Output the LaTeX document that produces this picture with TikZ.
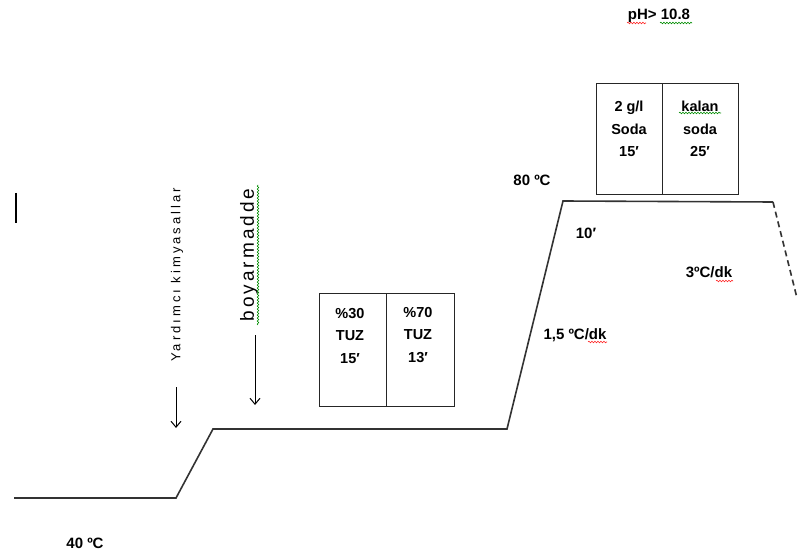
\documentclass[tikz,border=0pt]{standalone}
\usepackage{fontspec}
\setmainfont{Liberation Sans}
\usetikzlibrary{arrows.meta,decorations.pathmorphing}
\begin{document}
\begin{tikzpicture}[x=1pt,y=-1pt,
  lbl/.style={font=\fontsize{15}{18}\selectfont\bfseries, inner sep=0pt},
  boxtxt/.style={font=\fontsize{14.5}{22.5}\selectfont\bfseries, align=center, inner sep=0pt},
  profile/.style={draw=black!80, line width=1.6pt},
  boxline/.style={draw=black!85, line width=1.3pt, inner sep=0pt, anchor=north west},
  drop/.style={draw=black, line width=1pt, -{Straight Barb[length=6pt,width=10pt]}},
  sqred/.style={draw=red!85, line width=0.6pt, decorate, decoration={snake, amplitude=0.8pt, segment length=3pt}},
  sqgreen/.style={draw=green!55!black, line width=0.6pt, decorate, decoration={snake, amplitude=0.8pt, segment length=3pt}}
]
\useasboundingbox (0,0) rectangle (798,556);

% temperature profile
\coordinate (p0) at (14,498);
\coordinate (p1) at (176,498);
\coordinate (p2) at (213,429);
\coordinate (p3) at (507,429);
\coordinate (p4) at (563,201);
\coordinate (p5) at (773,202);
\coordinate (p6) at (797,298);
\draw[profile] (p0) -- (p1) -- (p2) -- (p3) -- (p4) -- (p5);
\draw[profile, dash pattern=on 6pt off 4pt] (p5) -- (p6);

% cursor bar
\coordinate (c0) at (16,193);
\coordinate (c1) at (16,223);
\draw[line width=2.5pt] (c0) -- (c1);

% salt boxes
\node[boxline, minimum width=67pt, minimum height=113pt] (t1) at (319,293) {};
\node[boxline, minimum width=68pt, minimum height=113pt] (t2) at (386,293) {};
\node[boxtxt] (t1txt) at (350,336) {\%30\\TUZ\\15′};
\node[boxtxt] (t2txt) at (418,335) {\%70\\TUZ\\13′};

% soda boxes
\node[boxline, minimum width=66pt, minimum height=111pt] (s1) at (596,83) {};
\node[boxline, minimum width=76pt, minimum height=111pt] (s2) at (662,83) {};
\node[boxtxt] (s1txt) at (629,129) {2 g/l\\Soda\\15′};
\node[boxtxt] (s2txt) at (700,129) {kalan\\soda\\25′};

% labels
\node[lbl] (ph) at (659,16) {pH> 10.8};
\node[lbl] (t80) at (532,180) {80 ºC};
\node[lbl] (t10) at (586,233) {10′};
\node[lbl] (r3) at (709,272) {3ºC/dk};
\node[lbl] (r15) at (575,335) {1,5 ºC/dk};
\node[lbl] (t40) at (85,543) {40 ºC};

% rotated chemical labels
\node[rotate=90, inner sep=0pt, font=\fontsize{13}{15}\selectfont\addfontfeature{LetterSpace=23}] (yk) at (177,275) {Yardımcı kimyasallar};
\node[rotate=90, inner sep=0pt, font=\fontsize{19}{21}\selectfont\addfontfeature{LetterSpace=16}] (bm) at (249,255) {boyarmadde};

% arrows
\coordinate (a1s) at (176,387);
\coordinate (a1e) at (176,428);
\coordinate (a2s) at (255,335);
\coordinate (a2e) at (255,405);
\draw[drop] (a1s) -- (a1e);
\draw[drop] (a2s) -- (a2e);

% spell-check squiggles
\coordinate (q1a) at (627,23); \coordinate (q1b) at (646,23);
\coordinate (q2a) at (660,23); \coordinate (q2b) at (692,23);
\coordinate (q3a) at (679,113); \coordinate (q3b) at (721,113);
\coordinate (q4a) at (588,342); \coordinate (q4b) at (607,342);
\coordinate (q5a) at (716,281); \coordinate (q5b) at (733,281);
\coordinate (q6a) at (258,325); \coordinate (q6b) at (258,185);
\draw[sqred] (q1a) -- (q1b);
\draw[sqgreen] (q2a) -- (q2b);
\draw[sqgreen] (q3a) -- (q3b);
\draw[sqred] (q4a) -- (q4b);
\draw[sqred] (q5a) -- (q5b);
\draw[sqgreen] (q6a) -- (q6b);
\end{tikzpicture}
\end{document}
